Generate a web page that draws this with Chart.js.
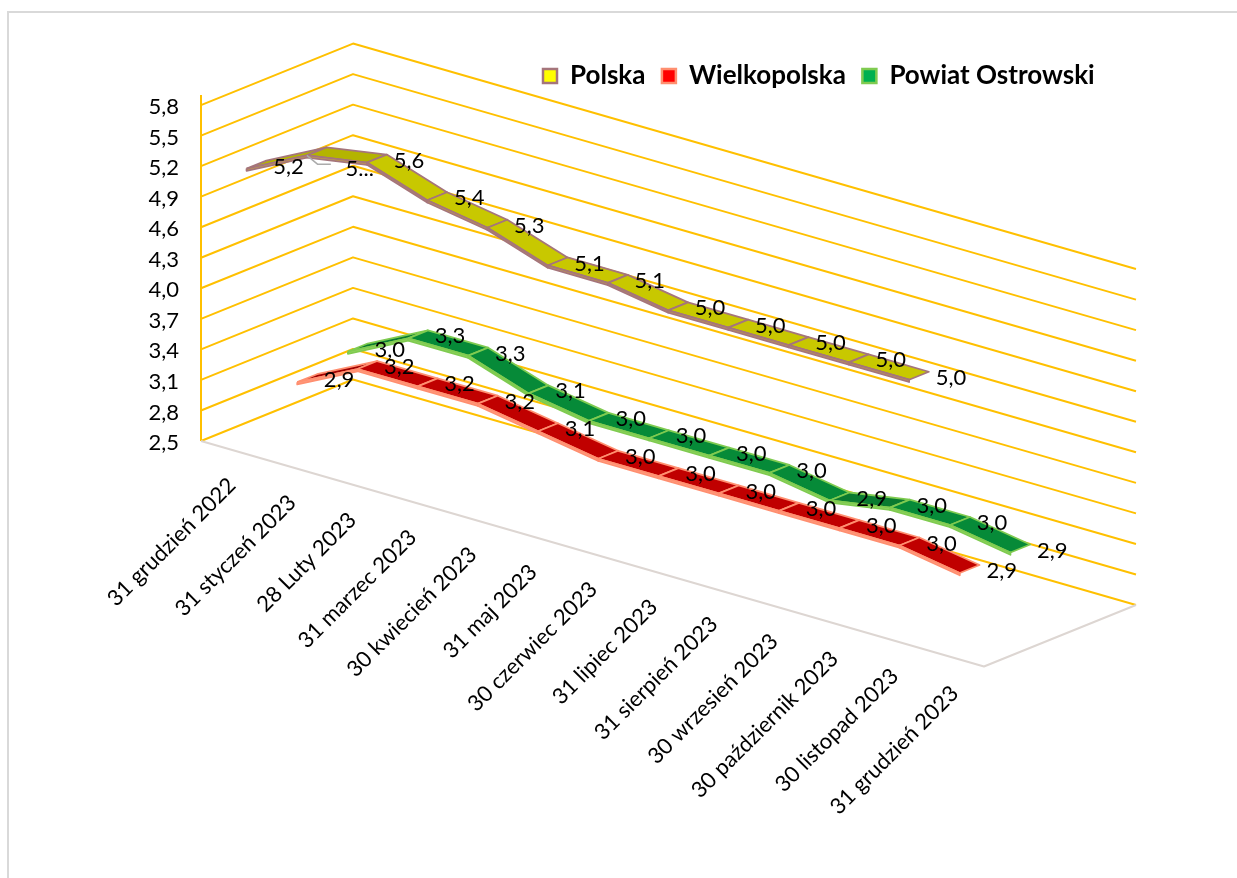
<!DOCTYPE html>
<html lang="pl">
<head>
  <meta charset="UTF-8">
  <title>Stopa bezrobocia</title>
  <script src="https://cdn.jsdelivr.net/npm/chart.js"></script>
  <style>
    html, body { margin: 0; padding: 0; background: #fff; overflow: hidden; }
    #frame { position: absolute; left: 7px; top: 11px; right: 0; bottom: 0; border-left: 2px solid #d9d9d9; border-top: 2px solid #d9d9d9; }
    #chart { position: absolute; left: 0; top: 0; }
  </style>
</head>
<body>
<div id="frame"></div>
<canvas id="chart" width="1237" height="878"></canvas>

<script>
  var categories = ['31 grudzień 2022', '31 styczeń 2023', '28 Luty 2023', '31 marzec 2023', '30 kwiecień 2023',
    '31 maj 2023', '30 czerwiec 2023', '31 lipiec 2023', '31 sierpień 2023', '30 wrzesień 2023',
    '30 październik 2023', '30 listopad 2023', '31 grudzień 2023'];
  var yTicks = [2.5, 2.8, 3.1, 3.4, 3.7, 4.0, 4.3, 4.6, 4.9, 5.2, 5.5, 5.8];
  var seriesNames = ['Polska', 'Wielkopolska', 'Powiat Ostrowski'];
  var polska = [5.2, 5.5, 5.6, 5.4, 5.3, 5.1, 5.1, 5.0, 5.0, 5.0, 5.0, 5.0];
  var wielkopolska = [2.9, 3.2, 3.2, 3.2, 3.1, 3.0, 3.0, 3.0, 3.0, 3.0, 3.0, 2.9];
  var ostrowski = [3.0, 3.3, 3.3, 3.1, 3.0, 3.0, 3.0, 3.0, 2.9, 3.0, 3.0, 2.9];

  // wygląd serii, osobno od danych
  var looks = [
    { values: polska, depth: 1 / 6, top: '#C8C800', rising: '#B4B400', side: '#C9A83C', edge: '#A5757B', box: '#FFFF00' },
    { values: wielkopolska, depth: 3 / 6, top: '#C00000', rising: '#A00000', side: '#FFA488', edge: '#FF8F70', box: '#FF0000' },
    { values: ostrowski, depth: 5 / 6, top: '#068A38', rising: '#0A7A30', side: '#9AD868', edge: '#7FCB50', box: '#00B050' }
  ];

  // rzut 3D na płaszczyznę: c = pozycja kategorii, d = głębokość 0..1, v = wartość
  var DEPTH_X = 2.524;   // ile kategorii w prawo daje pełna głębokość
  var DEPTH_Y = 0.604;   // ile jednostek osi w górę daje pełna głębokość
  var SLOPE_Y = 0.1704;  // ile jednostek osi w dół na jedną kategorię
  var RIBBON = 0.065;    // połowa szerokości wstęgi
  var THICK = 0.022;     // grubość wstęgi

  function project(c, d, v) {
    return { x: c + d * DEPTH_X, y: v - c * SLOPE_Y + d * DEPTH_Y };
  }

  function lineSet(points, color, width) {
    return { data: points, showLine: true, fill: false, borderColor: color, borderWidth: width,
      pointRadius: 0, clip: false, tension: 0, borderJoinStyle: 'round' };
  }

  function shapeSet(points, color, edge, width) {
    return { data: points.concat([points[0]]), showLine: true, fill: 'shape', backgroundColor: color,
      borderColor: edge, borderWidth: width, pointRadius: 0, clip: false, tension: 0, borderJoinStyle: 'round' };
  }

  var sets = [];

  // ściany: linie siatki i podłoga
  yTicks.forEach(function(t) {
    sets.push(lineSet([project(0, 0, t), project(0, 1, t), project(categories.length, 1, t)], '#FFC000', 2));
  });
  sets.push(lineSet([project(0, 0, 2.5), project(0, 0, 5.9)], '#FFC000', 2));
  sets.push(lineSet([project(0, 0, 2.5), project(categories.length, 0, 2.5), project(categories.length, 1, 2.5)], '#DDD6D2', 2));

  // wstęgi od tyłu do przodu
  [2, 1, 0].forEach(function(s) {
    var look = looks[s];
    var front = look.depth - RIBBON;
    var back = look.depth + RIBBON;
    for (var i = 0; i < look.values.length - 1; i++) {
      var a = look.values[i];
      var b = look.values[i + 1];
      var c0 = i + 0.5;
      var c1 = i + 1.5;
      sets.push(shapeSet([project(c0, front, a), project(c1, front, b), project(c1, back, b), project(c0, back, a)],
        b > a ? look.rising : look.top, look.edge, 1.8));
      sets.push(shapeSet([project(c0, front, a), project(c1, front, b), project(c1, front, b - THICK), project(c0, front, a - THICK)],
        look.side, look.edge, 1.8));
    }
  });

  // linia odniesienia etykiety "5..."
  var leaderStart = project(1.5, 1 / 6 - RIBBON, polska[1]);
  sets.push(lineSet([
    leaderStart,
    { x: leaderStart.x + 11 / 60.23, y: leaderStart.y - 9 / 101.8 },
    { x: leaderStart.x + 24 / 60.23, y: leaderStart.y - 9 / 101.8 }
  ], '#ABABAB', 1.5));

  // w Chart.js pierwszy zbiór jest rysowany na wierzchu
  sets.reverse();

  var textPlugin = {
    id: 'textPlugin',
    beforeLayout: function(chart) {
      // legenda w jednym wierszu, mimo pozycji chartArea
      chart.legend.isHorizontal = function() { return true; };
    },
    afterLayout: function(chart) {
      var legend = chart.legend;
      legend.left = 526.5;
      legend.right = 1237;
      legend.top = 46.5;
    },
    afterDatasetsDraw: function(chart) {
      var ctx = chart.ctx;
      var xs = chart.scales.x;
      var ys = chart.scales.y;
      ctx.save();
      ctx.fillStyle = '#000';
      ctx.font = '22px Lato';
      ctx.textAlign = 'center';
      ctx.textBaseline = 'middle';
      looks.forEach(function(look, s) {
        look.values.forEach(function(v, i) {
          var p = project(i + 0.5, look.depth, v);
          var px = xs.getPixelForValue(p.x) + 32;
          var py = ys.getPixelForValue(p.y) + 2;
          var text = v.toFixed(1).replace('.', ',');
          if (s === 0 && i === 1) { // za mało miejsca, Excel skrócił etykietę
            text = '5...';
            px += 11;
            py += 16;
          }
          ctx.fillText(text, px, py);
        });
      });
      ctx.textAlign = 'right';
      categories.forEach(function(name, i) {
        var p = project(i + 0.5, 0, 2.5);
        ctx.save();
        ctx.translate(xs.getPixelForValue(p.x) + 1, ys.getPixelForValue(p.y) + 32);
        ctx.rotate(-Math.PI / 4);
        ctx.fillText(name, 0, 0);
        ctx.restore();
      });
      ctx.restore();
    }
  };

  new Chart(document.getElementById('chart'), {
    type: 'scatter',
    data: { datasets: sets },
    options: {
      responsive: false,
      animation: false,
      layout: { padding: { left: 0, top: 44, right: 101, bottom: 211 } },
      scales: {
        x: { display: false, type: 'linear', min: 0, max: categories.length + DEPTH_X },
        y: {
          type: 'linear',
          min: 2.5 - 226 / 101.8,
          max: 2.5 + 397 / 101.8,
          grid: { display: false },
          border: { display: false },
          afterBuildTicks: function(scale) {
            scale.ticks = yTicks.map(function(t) { return { value: t }; });
          },
          afterFit: function(scale) { scale.width = 201; },
          ticks: {
            padding: 14,
            labelOffset: 2,
            color: '#000',
            font: { family: 'Lato', size: 22 },
            callback: function(v) { return v.toFixed(1).replace('.', ','); }
          }
        }
      },
      plugins: {
        tooltip: { enabled: false },
        legend: {
          position: 'chartArea',
          align: 'start',
          onClick: null,
          labels: {
            boxWidth: 14,
            boxHeight: 14,
            padding: 16.5,
            color: '#000',
            font: { family: 'Lato', size: 26, weight: 'bold' },
            generateLabels: function() {
              return seriesNames.map(function(name, s) {
                return { text: name, fillStyle: looks[s].box, strokeStyle: looks[s].edge, lineWidth: 2.5, datasetIndex: s };
              });
            }
          }
        }
      }
    },
    plugins: [textPlugin]
  });
</script>
</body>
</html>
